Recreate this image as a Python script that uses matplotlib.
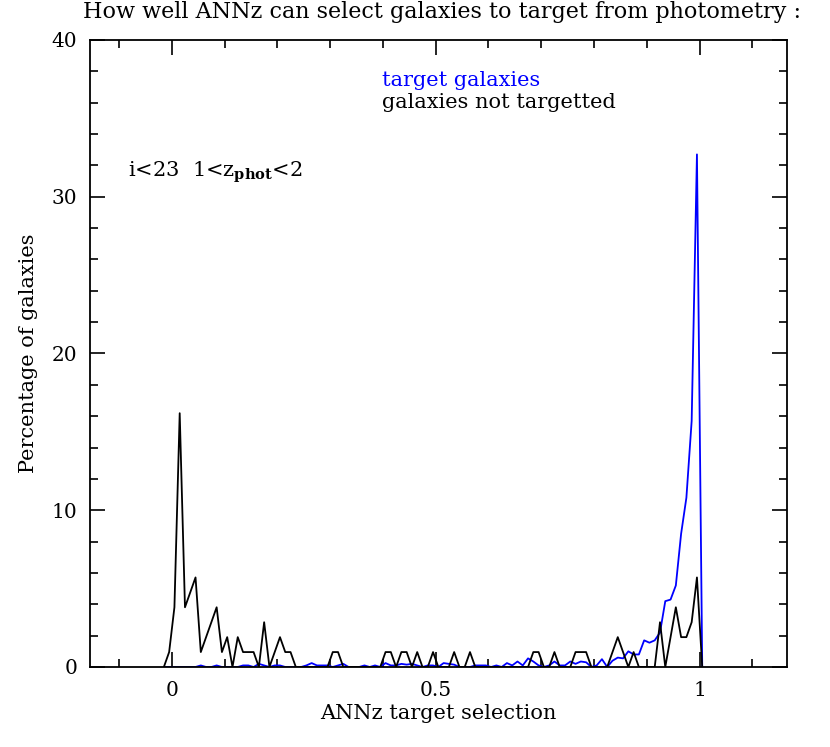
import matplotlib
matplotlib.use("Agg")
import matplotlib.pyplot as plt
import numpy as np

# bin centres of the ANNz selection histogram (bin width 0.01)
bin_lo = -0.015
bin_width = 0.01

# target galaxies, percentage per bin
target_pct = [
    0, 0, 0, 0, 0, 0, 0, 0.1, 0, 0,
    0.1, 0, 0, 0, 0, 0.1, 0.1, 0, 0.2, 0.1,
    0, 0.1, 0.1, 0, 0, 0, 0, 0.1, 0.25, 0.1,
    0.1, 0.1, 0, 0.1, 0.2, 0, 0, 0, 0.1, 0,
    0.1, 0, 0.25, 0.1, 0.1, 0.2, 0.15, 0.2, 0.1, 0,
    0.1, 0.1, 0, 0.25, 0.2, 0.15, 0, 0, 0, 0.1,
    0.1, 0.1, 0, 0.1, 0, 0.25, 0.1, 0.35, 0.1, 0.55,
    0.35, 0.1, 0, 0.1, 0.35, 0.1, 0.1, 0.35, 0.2, 0.35,
    0.3, 0, 0.1, 0.5, 0, 0.4, 0.6, 0.55, 1.0, 0.8,
    0.8, 1.7, 1.55, 1.7, 2.2, 4.2, 4.3, 5.2, 8.5, 10.8,
    15.7, 32.7, 0,
]

# galaxies not targetted, counts per bin (105 galaxies in total)
other_counts = [
    0, 1, 4, 17, 4, 5, 6, 1, 2, 3,
    4, 1, 2, 0, 2, 1, 1, 1, 0, 3,
    0, 1, 2, 1, 1, 0, 0, 0, 0, 0,
    0, 0, 1, 1, 0, 0, 0, 0, 0, 0,
    0, 0, 1, 1, 0, 1, 1, 0, 1, 0,
    0, 1, 0, 0, 0, 1, 0, 0, 1, 0,
    0, 0, 0, 0, 0, 0, 0, 0, 0, 0,
    1, 1, 0, 0, 1, 0, 0, 0, 1, 1,
    1, 0, 0, 0, 0, 1, 2, 1, 0, 1,
    0, 0, 0, 0, 3, 0, 2, 4, 2, 2,
    3, 6, 0,
]
n_other = 105

x = bin_lo + bin_width * np.arange(len(target_pct))
other_pct = np.array(other_counts) * 100.0 / n_other

plt.rcParams['font.family'] = 'DejaVu Serif'
plt.rcParams['mathtext.fontset'] = 'dejavuserif'

fig = plt.figure(figsize=(8.3, 7.47), dpi=100)
ax = fig.add_axes([0.1084, 0.1071, 0.8394, 0.8394])

ax.plot(x, target_pct, color='#0000ff', lw=1.3)
ax.plot(x, other_pct, color='black', lw=1.3)

ax.set_xlim(-0.155, 1.165)
ax.set_ylim(0, 40)
ax.set_xticks([0, 0.5, 1])
ax.set_xticklabels(['0', '0.5', '1'])
ax.set_xticks(np.arange(-0.1, 1.15, 0.1), minor=True)
ax.set_yticks([0, 10, 20, 30, 40])
ax.set_yticks(np.arange(0, 41, 2), minor=True)
ax.tick_params(which='both', direction='in', top=True, right=True, width=1.2)
ax.tick_params(which='major', length=11, labelsize=14.5)
ax.tick_params(axis='x', which='major', pad=10)
ax.tick_params(axis='y', which='major', pad=9)
ax.tick_params(which='minor', length=5.5)
for s in ax.spines.values():
    s.set_linewidth(1.3)

ax.set_xlabel('ANNz target selection', fontsize=15, labelpad=3)
ax.set_ylabel('Percentage of galaxies', fontsize=15, labelpad=10)

ax.text(0.419, 0.936, 'target galaxies', color='#0000ff', fontsize=15,
        transform=ax.transAxes, va='center')
ax.text(0.419, 0.9, 'galaxies not targetted', color='black', fontsize=15,
        transform=ax.transAxes, va='center')
ax.text(0.0545, 0.789, r'i<23  1<z$_{\bf phot}$<2', fontsize=15,
        transform=ax.transAxes, va='center')

fig.text(0.1, 0.984, 'How well ANNz can select galaxies to target from photometry :',
         fontsize=16, va='center', ha='left')

plt.savefig("out.png", dpi=100)
